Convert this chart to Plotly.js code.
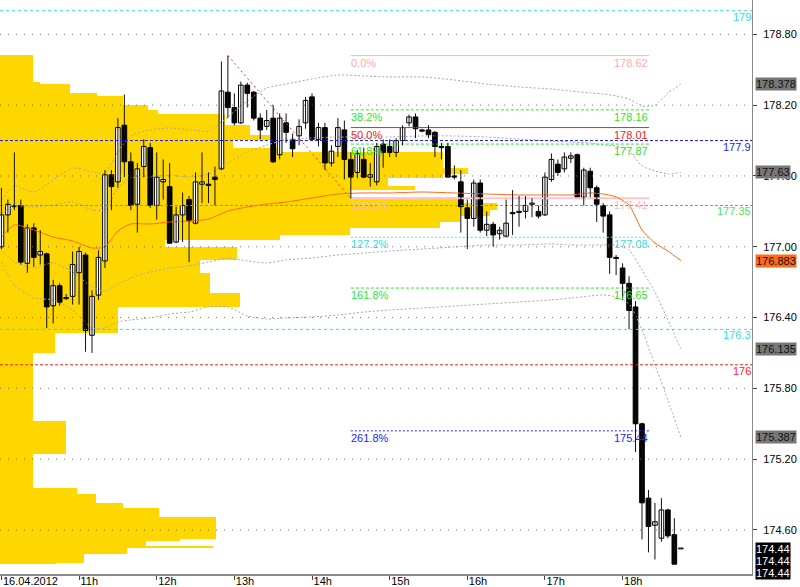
<!DOCTYPE html>
<html><head><meta charset="utf-8">
<script src="https://cdn.plot.ly/plotly-3.0.1.min.js"></script>
<style>html,body{margin:0;padding:0;background:#fff}#chart{width:800px;height:587px}</style>
</head><body><div id="chart"></div>
<script>
// ---- candles (5-minute bars, index 0 = 16.04.2012 10:00) ----
const candleOpen = [177.00,177.27,177.35,177.35,176.86,177.16,176.93,176.94,176.50,176.67,
176.56,176.58,176.78,176.93,176.25,176.59,176.88,177.61,177.55,178.03,
177.72,177.36,177.68,177.84,177.35,177.55,177.51,177.04,177.27,177.40,
177.20,177.53,177.53,177.59,177.66,178.31,178.18,178.05,178.37,178.31,
178.09,178.02,178.09,177.78,178.05,177.91,177.94,178.05,178.27,177.91,
178.01,177.71,177.85,177.99,177.74,177.63,177.74,177.59,177.55,177.87,
177.85,177.80,177.90,178.05,178.10,177.99,177.99,177.97,177.85,177.85,
177.60,177.55,177.33,177.24,177.54,177.14,177.19,177.11,177.09,177.29,
177.29,177.30,177.36,177.30,177.27,177.57,177.70,177.66,177.75,177.78,
177.42,177.64,177.50,177.35,177.27,176.91,176.82,176.69,176.49,175.50,
174.87,174.64,174.53,174.77,174.56,174.44];
const candleHigh = [177.50,177.40,177.80,177.40,177.19,177.20,177.14,176.95,176.72,176.69,
176.60,176.96,177.00,176.95,176.63,176.97,177.65,177.65,178.09,178.29,
177.80,177.71,177.91,177.88,177.80,177.74,177.71,177.34,177.46,177.43,
177.63,177.80,177.63,177.68,178.57,178.62,178.30,178.40,178.39,178.32,
178.13,178.16,178.20,178.13,178.13,177.96,178.08,178.27,178.30,178.05,
178.05,177.86,178.09,178.07,177.80,177.82,177.84,177.71,177.88,177.91,
177.91,177.92,178.03,178.12,178.13,178.00,178.03,177.98,177.88,177.88,
177.69,177.65,177.40,177.57,177.57,177.30,177.21,177.17,177.40,177.48,
177.43,177.43,177.41,177.35,177.63,177.79,177.74,177.80,177.80,177.79,
177.67,177.67,177.52,177.37,177.30,176.93,176.86,176.75,176.54,175.51,
174.94,174.83,174.87,174.78,174.70,174.44];
const candleLow = [176.98,177.12,177.31,176.85,176.78,176.83,176.85,176.31,176.35,176.50,
176.55,176.51,176.51,176.11,176.10,176.55,176.82,177.31,177.50,177.59,
177.31,177.12,177.59,177.33,177.23,177.40,177.03,177.03,177.04,176.87,
177.19,177.37,177.37,177.35,177.65,178.09,178.03,178.04,178.18,178.07,
177.91,177.99,177.71,177.74,177.88,177.76,177.86,178.00,177.90,177.85,
177.65,177.68,177.76,177.57,177.41,177.58,177.58,177.51,177.52,177.67,
177.76,177.76,177.86,178.02,177.92,177.97,177.92,177.76,177.74,177.59,
177.57,177.12,176.98,177.17,177.12,177.09,177.00,177.06,177.08,177.10,
177.17,177.24,177.25,177.24,177.26,177.55,177.60,177.63,177.71,177.42,
177.35,177.42,177.21,177.12,176.77,176.76,176.55,176.30,175.26,174.52,
174.41,174.35,174.50,174.53,174.31,174.44];
const candleClose = [177.27,177.36,177.34,176.87,177.16,176.91,176.96,176.49,176.67,176.53,
176.57,176.85,176.96,176.29,176.58,176.91,177.61,177.51,178.01,177.72,
177.35,177.66,177.85,177.35,177.59,177.57,177.03,177.27,177.35,177.22,
177.55,177.55,177.52,177.57,178.32,178.18,178.05,178.37,178.30,178.09,
177.99,178.07,177.72,178.09,177.97,177.83,178.02,178.24,177.91,178.01,
177.71,177.81,178.01,177.74,177.59,177.79,177.59,177.61,177.85,177.80,
177.80,177.90,178.01,178.10,178.00,177.98,177.95,177.85,177.84,177.59,
177.59,177.34,177.24,177.54,177.14,177.19,177.10,177.14,177.20,177.28,
177.30,177.35,177.37,177.26,177.59,177.74,177.63,177.76,177.77,177.42,
177.65,177.50,177.36,177.26,176.91,176.90,176.69,176.46,175.50,174.83,
174.63,174.67,174.77,174.55,174.31,174.44];
const candleIndex = candleOpen.map((_, i) => i);

// ---- time axis ----
const xTickIndex = [0, 12, 24, 36, 48, 60, 72, 84, 96];
const xTickText = ['16.04.2012', '11h', '12h', '13h', '14h', '15h', '16h', '17h', '18h'];

// ---- price axis ----
const yTickValues = [174.6, 175.2, 175.8, 176.4, 177.0, 177.6, 178.2, 178.8];

// ---- moving average and bands (sampled at candle indices) ----
const bandIndex = [0,2,5,8,11,14,16,18,20,23,26,29,32,35,38,41,44,48,52,56,60,65,70,75,80,85,88,91,93,95,97,99,101,103,105];
const maLine = [177.083,177.185,177.142,177.083,177.049,176.990,176.998,177.134,177.193,177.193,177.210,177.218,177.235,177.303,177.337,177.362,177.379,177.413,177.447,177.456,177.456,177.464,177.456,177.447,177.439,177.439,177.439,177.456,177.447,177.422,177.354,177.142,177.032,176.964,176.883];
const bandUpper2 = [177.396,177.515,177.464,177.566,177.668,177.634,177.625,177.803,177.939,177.990,178.006,177.990,177.981,178.100,178.235,178.345,178.379,178.422,178.456,178.447,178.439,178.439,178.413,178.379,178.354,178.337,178.320,178.303,178.295,178.278,178.252,178.193,178.201,178.303,178.378];
const bandUpper1 = [177.286,177.337,177.337,177.354,177.379,177.312,177.312,177.498,177.583,177.591,177.608,177.591,177.617,177.710,177.803,177.862,177.905,177.922,177.930,177.930,177.930,177.939,177.939,177.930,177.913,177.896,177.888,177.879,177.862,177.854,177.812,177.684,177.642,177.617,177.630];
const bandLower1 = [176.973,176.871,176.820,176.863,176.786,176.659,176.625,176.685,176.736,176.786,176.820,176.837,176.871,176.905,176.880,176.863,176.888,176.905,176.930,176.947,176.964,176.981,176.998,177.015,177.015,177.024,177.015,177.015,177.015,177.015,176.973,176.803,176.617,176.380,176.135];
const bandLower2 = [176.871,176.676,176.566,176.549,176.464,176.312,176.312,176.363,176.380,176.397,176.430,176.447,176.490,176.490,176.414,176.388,176.397,176.405,176.422,176.447,176.464,176.481,176.498,176.515,176.532,176.549,176.566,176.583,176.592,176.575,176.515,176.295,175.998,175.702,175.387];

// ---- volume-at-price profile ----
const profileEdges = [178.625,178.396,178.379,178.303,178.278,178.201,178.159,178.125,178.032,177.947,177.905,177.837,177.803,177.668,177.617,177.583,177.515,177.481,177.422,177.371,177.312,177.261,177.210,177.159,177.100,177.058,176.998,176.888,176.778,176.608,176.490,176.270,176.100,175.524,175.244,174.956,174.905,174.829,174.787,174.710,174.524,174.507,174.465,174.448,174.397,174.321,174.312];
const profileVolume = [33,40,70,97,123,148,158,225,250,270,233,280,443,468,443,388,415,350,460,497,490,460,440,350,280,165,237,200,210,240,118,55,33,66,33,77,96,123,159,216,180,146,213,127,84,56];

// ---- Fibonacci retracement ----
const fibSwingIndex = [35, 54];
const fibSwingPrice = [178.62, 177.41];
const fibPercentLabels = ['0.0%', '38.2%', '50.0%', '61.8%', '100.0%', '127.2%', '161.8%', '261.8%'];
const fibPrices = [178.62, 178.16, 178.01, 177.87, 177.41, 177.08, 176.65, 175.44];
const fibPriceLabels = ['178.62', '178.16', '178.01', '177.87', '177.41', '177.08', '176.65', '175.44'];

// ---- horizontal levels ----
const levelPrices = [179, 177.9, 177.35, 176.3, 176];
const levelLabels = ['179', '177.9', '177.35', '176.3', '176'];

// ---- right-scale markers ----
const markerValues = [178.378, 177.63, 176.883, 176.135, 175.387];
const markerLabels = ['178.378', '177.63', '176.883', '176.135', '175.387'];
const lastPrices = [174.44, 174.44, 174.44];

// ================= styles & layout (not data) =================
const FONT = 'Liberation Sans, Arial, sans-serif';
const X0 = -0.22, X1 = 116.0;
const fibStart = 54.0, fibEnd = 100.1;
const fibStyle = [
  {c:'#ffb4b4', d:'solid', w:1},
  {c:'#22ee22', d:'3px,2px', w:1},
  {c:'#ee2222', d:'solid', w:1},
  {c:'#22ee22', d:'3px,2px', w:1},
  {c:'#ffc4cc', d:'solid', w:2},
  {c:'#33e8e8', d:'2px,2px', w:1},
  {c:'#22ee22', d:'3px,2px', w:1},
  {c:'#2222ff', d:'2px,2px', w:1}
];
const fibTextColor = ['#ffaaaa','#33dd33','#ee2222','#33dd33','#ffbbc4','#33dddd','#33dd33','#2222ff'];
const levelStyle = [
  {c:'#33dddd', d:'3px,3px'},
  {c:'#1a1aff', d:'3px,2px'},
  {c:'#33cc33', d:'3px,2px'},
  {c:'#33dddd', d:'3px,3px'},
  {c:'#ff2020', d:'3px,2px'}
];
const levelTextColor = ['#33dddd','#2222ff','#55dd55','#33dddd','#ff2020'];
const markerBg = ['#777777','#777777','#ff6a1a','#777777','#777777'];
const MIN_BODY = 0.007;

const traces = [];
// profile polygon (base x axis, drawn underneath the overlaying price subplot)
const px = [0], py = [profileEdges[0]];
profileVolume.forEach((v, i) => { px.push(v, v); py.push(profileEdges[i], profileEdges[i + 1]); });
px.push(0); py.push(profileEdges[profileEdges.length - 1]);
traces.push({type:'scatter', mode:'lines', x:px, y:py, xaxis:'x', yaxis:'y', fill:'toself',
  fillcolor:'#ffd700', line:{width:0, color:'#ffd700'}, hoverinfo:'skip'});

// grid lines (drawn over the profile)
const gx = [], gy = [];
yTickValues.forEach(v => { gx.push(X0, X1, null); gy.push(v, v, null); });
traces.push({type:'scatter', mode:'lines', xaxis:'x2', x:gx, y:gy, line:{color:'#707070', width:1, dash:'1px,7px'}, hoverinfo:'skip'});

// bands
[bandUpper2, bandUpper1, bandLower1, bandLower2].forEach(b => {
  traces.push({type:'scatter', mode:'lines', xaxis:'x2', x:bandIndex, y:b, line:{color:'#a8a8a8', width:1, dash:'2px,2px', shape:'spline', smoothing:0.6}, hoverinfo:'skip'});
});

// full-width levels
levelPrices.forEach((p, i) => {
  traces.push({type:'scatter', mode:'lines', xaxis:'x2', x:[X0, X1], y:[p, p], line:{color:levelStyle[i].c, width:1, dash:levelStyle[i].d}, hoverinfo:'skip'});
});

// fib levels
fibPrices.forEach((p, i) => {
  traces.push({type:'scatter', mode:'lines', xaxis:'x2', x:[fibStart, fibEnd], y:[p, p], line:{color:fibStyle[i].c, width:fibStyle[i].w, dash:fibStyle[i].d}, hoverinfo:'skip'});
});
// swing diagonal
traces.push({type:'scatter', mode:'lines', xaxis:'x2', x:fibSwingIndex, y:fibSwingPrice, line:{color:'#ff3030', width:1, dash:'2px,3px'}, hoverinfo:'skip'});

// MA
traces.push({type:'scatter', mode:'lines', xaxis:'x2', x:bandIndex, y:maLine, line:{color:'#ff6a1a', width:1, shape:'spline', smoothing:0.6}, hoverinfo:'skip'});

// candle wicks
const wx = [], wy = [];
candleIndex.forEach(i => { wx.push(i, i, null); wy.push(candleLow[i], candleHigh[i], null); });
traces.push({type:'scatter', mode:'lines', xaxis:'x2', x:wx, y:wy, line:{color:'#111', width:1}, hoverinfo:'skip'});
// candle bodies
traces.push({type:'bar', xaxis:'x2', x:candleIndex,
  base:candleIndex.map(i => Math.min(candleOpen[i], candleClose[i])),
  y:candleIndex.map(i => Math.max(Math.abs(candleClose[i] - candleOpen[i]), MIN_BODY)),
  width:0.72,
  marker:{color:candleIndex.map(i => candleClose[i] >= candleOpen[i] ? '#ffffff' : '#000000'), line:{color:'#000', width:1}},
  hoverinfo:'skip'});

// annotations
const ann = [];
fibPrices.forEach((p, i) => {
  ann.push({x:fibStart, y:p, xref:'x2', yref:'y', xanchor:'left', yanchor:'top', text:fibPercentLabels[i], showarrow:false,
    font:{family:FONT, size:11, color:fibTextColor[i]}, borderpad:0, xshift:-1, yshift:0});
  ann.push({x:fibEnd, y:p, xref:'x2', yref:'y', xanchor:'right', yanchor:'top', text:fibPriceLabels[i], showarrow:false,
    font:{family:FONT, size:11, color:fibTextColor[i]}, borderpad:0, yshift:0});
});
levelPrices.forEach((p, i) => {
  ann.push({x:1, y:p, xref:'paper', yref:'y', xanchor:'right', yanchor:'top', text:levelLabels[i], showarrow:false,
    font:{family:FONT, size:11, color:levelTextColor[i]}, borderpad:0, yshift:1});
});
markerValues.forEach((v, i) => {
  ann.push({x:1, y:v, xref:'paper', yref:'y', xanchor:'left', yanchor:'middle', text:markerLabels[i], showarrow:false,
    bgcolor:markerBg[i], font:{family:FONT, size:11, color:'#111'}, borderpad:0, xshift:3});
});
lastPrices.forEach((v, i) => {
  ann.push({x:1, y:v, xref:'paper', yref:'y', xanchor:'left', yanchor:'middle', text:v.toFixed(2), showarrow:false,
    bgcolor:'#000', font:{family:FONT, size:11, color:'#fff'}, borderpad:0, xshift:3, yshift:-12 * i});
});

const layout = {
  width:800, height:587,
  margin:{l:0, r:48, t:0, b:13, pad:0},
  paper_bgcolor:'#fff', plot_bgcolor:'#fff',
  showlegend:false, barmode:'overlay', bargap:0,
  font:{family:FONT, size:11, color:'#000'},
  xaxis:{range:[0, 752], visible:false, fixedrange:true},
  xaxis2:{range:[X0, X1], overlaying:'x', anchor:'y', side:'bottom', showgrid:false, zeroline:false,
    tickvals:xTickIndex, ticktext:xTickText, ticks:'outside', ticklen:4, tickcolor:'#444', tickwidth:1,
    ticklabelposition:'outside right', ticklabelstandoff:-4, tickfont:{family:FONT, size:11, color:'#000'},
    showline:true, linecolor:'#8a8a8a', linewidth:2, fixedrange:true},
  yaxis:{range:[174.227, 179.091], side:'right', showgrid:false, zeroline:false,
    tickvals:yTickValues, ticktext:yTickValues.map(v => v.toFixed(2)), ticks:'outside', ticklen:4, tickcolor:'#444',
    tickfont:{family:FONT, size:11, color:'#000'}, showline:true, linecolor:'#8a8a8a', linewidth:1, fixedrange:true,
    ticklabelstandoff:4},
  annotations:ann
};
Plotly.newPlot('chart', traces, layout, {displayModeBar:false, staticPlot:true});
</script></body></html>
